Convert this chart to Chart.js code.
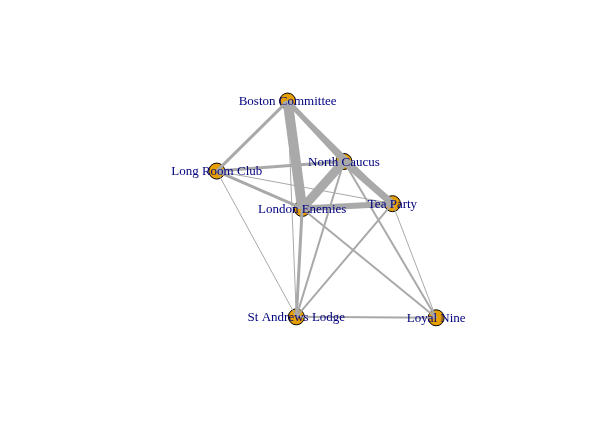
<!DOCTYPE html>
<html>
<head>
<meta charset="utf-8">
<script src="https://cdn.jsdelivr.net/npm/chart.js@4"></script>
<style>
html, body { margin: 0; padding: 0; background: #fff; }
#wrap { width: 616px; height: 439px; }
</style>
</head>
<body>
<div id="wrap"><canvas id="net"></canvas></div>
<script>
// node layout
var nodes = ["Boston Committee", "North Caucus", "Long Room Club", "London Enemies", "Tea Party", "St Andrews Lodge", "Loyal Nine"];
var nodeX = [287, 345, 214, 302, 395, 296, 440];
var nodeY = [96, 159, 169, 208, 203, 321, 322];

// edges: from, to, weight
var edgeFrom = [0, 1, 0, 1, 3, 0, 2, 2, 2, 2, 2, 0, 3, 1, 4, 1, 4, 5, 3];
var edgeTo   = [3, 4, 1, 3, 4, 4, 0, 1, 3, 4, 5, 5, 5, 5, 5, 6, 6, 6, 6];
var edgeW    = [10, 7, 5, 9, 6, 3, 3, 3, 3, 1, 1, 1, 3, 2, 2, 2, 1, 2, 2];

var datasets = [];
for (var i = 0; i < edgeFrom.length; i++) {
	var a = edgeFrom[i], b = edgeTo[i];
	datasets.push({
		type: 'line',
		data: [{x: nodeX[a], y: nodeY[a]}, {x: nodeX[b], y: nodeY[b]}],
		borderColor: '#a9a9a9',
		borderWidth: edgeW[i],
		pointRadius: 0,
		showLine: true
	});
}
datasets.push({
	type: 'scatter',
	data: nodes.map(function (n, i) { return {x: nodeX[i], y: nodeY[i]}; }),
	backgroundColor: '#E69F00',
	borderColor: '#000',
	borderWidth: 1,
	pointRadius: 8
});

var labelPlugin = {
	id: 'labels',
	afterDatasetsDraw: function (chart) {
		var c = chart.ctx, xs = chart.scales.x, ys = chart.scales.y;
		c.save();
		c.font = '13px "Liberation Serif", serif';
		c.fillStyle = '#00007f';
		c.textAlign = 'center';
		c.textBaseline = 'middle';
		nodes.forEach(function (n, i) {
			c.fillText(n, xs.getPixelForValue(nodeX[i]), ys.getPixelForValue(nodeY[i]) + 1);
		});
		c.restore();
	}
};

new Chart(document.getElementById('net'), {
	type: 'scatter',
	data: { datasets: datasets },
	options: {
		responsive: true,
		maintainAspectRatio: false,
		animation: false,
		layout: { padding: 0 },
		plugins: { legend: { display: false }, tooltip: { enabled: false } },
		scales: {
			x: { type: 'linear', min: 0, max: 616, display: false },
			y: { type: 'linear', min: 0, max: 439, reverse: true, display: false }
		}
	},
	plugins: [labelPlugin]
});
</script>
</body>
</html>
